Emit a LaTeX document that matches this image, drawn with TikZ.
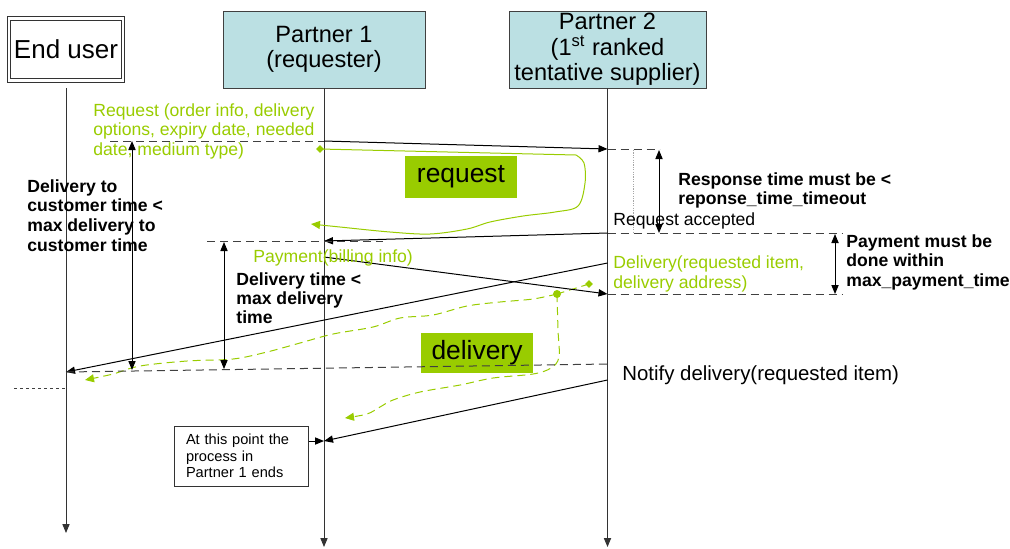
\documentclass[tikz,border=0pt]{standalone}
\usepackage{fontspec}
\setmainfont{Liberation Sans}
\usepackage{xcolor}
\usepackage{tikz}
\usetikzlibrary{arrows.meta,calc,positioning,shapes.geometric}

\definecolor{msggreen}{RGB}{153,204,0}
\definecolor{rolefill}{RGB}{187,224,227}

\tikzset{
  role/.style={draw=black!75,fill=rolefill,align=center,inner sep=0pt,
    font=\fontsize{11.8}{12.8}\selectfont},
  lifeline/.style={black!80,line width=0.5pt,-{Triangle[length=4.5pt,width=3.6pt]}},
  msg/.style={line width=0.5pt,-{Triangle[length=4.5pt,width=3.6pt]}},
  span/.style={line width=0.5pt,{Triangle[length=4.5pt,width=3.6pt]}-{Triangle[length=4.5pt,width=3.6pt]}},
  timeline/.style={black!75,line width=0.5pt,dash pattern=on 4pt off 2.5pt},
  flow/.style={msggreen,line width=0.5pt,-{Triangle[length=4.5pt,width=4pt]}},
  note/.style={inner sep=0pt,anchor=base west,align=left},
  tag/.style={fill=msggreen,minimum width=56pt,minimum height=21pt,
    font=\fontsize{13.2}{15}\selectfont}
}

\begin{document}
\begin{tikzpicture}[x=0.5pt,y=-0.5pt,font=\fontsize{8.8}{9.6}\selectfont]
\useasboundingbox (0,0) rectangle (1010,548);

% the three roles and their lifelines
\node[draw=black!80,line width=0.5pt,double,double distance=1.2pt,inner sep=0pt,minimum width=57pt,
  minimum height=31pt,font=\fontsize{13}{15}\selectfont] (enduser) at (66,49.5) {End user};
\node[role,minimum width=101pt,minimum height=38.5pt] (partnerA) at (324,49.5) {Partner 1\\(requester)};
\node[role,minimum width=98.5pt,minimum height=38.5pt] (partnerB) at (607.5,49.5)
  {Partner 2\\(1\textsuperscript{st} ranked\\tentative supplier)};
\foreach \who/\stop in {enduser/533,partnerA/547,partnerB/547}
  \draw[lifeline] (\who |- 0,88) -- (\who |- 0,\stop);

% message ends on the lifelines
\coordinate (rq-a) at (partnerA |- 0,141);
\coordinate (rq-b) at (partnerB |- 0,149);
\coordinate (ok-a) at (partnerB |- 0,233);
\coordinate (ok-b) at (partnerA |- 0,241);
\coordinate (pay-a) at (partnerA |- 0,257);
\coordinate (pay-b) at (partnerB |- 0,294);
\coordinate (dl-a) at (partnerB |- 0,263);
\coordinate (dl-b) at (enduser |- 0,372);
\coordinate (nt-a) at (partnerB |- 0,380);
\coordinate (nt-b) at (partnerA |- 0,441);

% green flows
\node[diamond,fill=msggreen,inner sep=0pt,minimum size=4pt] (rq-dot) at (320,149) {};
\draw[flow] (rq-dot.center) -- plot[smooth,tension=0.55] coordinates {(576,155) (584,163)
  (585,183) (578,206) (555,212) (523,216) (490,222) (467,229) (430,234) (390,232) (340,227) (311,224)};
\node[tag] (rq-tag) at (461,177) {request};

\node[diamond,fill=msggreen,inner sep=0pt,minimum size=4pt] (dl-tip) at (589,284) {};
\node[circle,fill=msggreen,inner sep=0pt,minimum size=4pt] (dl-dot) at (557,294) {};
\draw[flow,-,dash pattern=on 4pt off 2.5pt] (dl-tip.center) -- (dl-dot.center);
\draw[flow,dash pattern=on 4pt off 2.5pt] plot[smooth,tension=0.55] coordinates {(557,294)
  (533,299) (500,302) (467,306) (433,315) (400,318) (373,327) (333,334) (300,343) (267,352)
  (233,359) (187,361) (140,366) (113,374) (85,380)};
\draw[flow,dash pattern=on 4pt off 2.5pt] plot[smooth,tension=0.55] coordinates {(557,294)
  (558,330) (559,357) (551,368) (533,374) (493,378) (460,385) (420,392) (393,400) (380,407)
  (367,414) (345,418)};
\node[tag,minimum height=20pt] (dl-tag) at (477,353) {delivery};

% messages
\draw[msg] (rq-a) -- (rq-b);
\draw[msg] (ok-a) -- (ok-b);
\draw[msg] (pay-a) -- (pay-b);
\draw[msg] (dl-a) -- (dl-b);
\draw[msg] (nt-a) -- (nt-b);

% time marks
\draw[timeline] (110,141) -- (rq-a);
\draw[timeline] (rq-b) -- ++(52,0);
\draw[timeline] (ok-a) -- (843,233);
\draw[timeline] (207,241) -- (383,241);
\draw[timeline] (pay-b) -- (843,294);
\draw[timeline] (dl-b) -- (partnerB |- 0,364);
\draw[black!75,line width=0.5pt,dash pattern=on 1.5pt off 1.5pt] (14,388) -- (enduser |- 0,388);
\draw[black!35,line width=0.4pt,dash pattern=on 0.6pt off 0.6pt] (633,150) -- (633,233);

\draw[span] (132,141) -- (132,370);
\draw[span] (224,242) -- (224,369);
\draw[span] (659,150) -- (659,233);
\draw[span] (835,234) -- (835,294);

% labels (base = last line)
\node[note,text=msggreen] (rq-txt) at (93,155)
  {Request (order info, delivery\\options, expiry date, needed\\date, medium type)};
\node[note,font=\fontsize{8.8}{9.5}\selectfont\bfseries] (resp-txt) at (678,204)
  {Response time must be <\\reponse\_time\_timeout};
\node[note] (ok-txt) at (613,225) {Request accepted};
\node[note,font=\fontsize{8.8}{9.75}\selectfont\bfseries] (pay-lim) at (846,286)
  {Payment must be\\done within\\max\_payment\_time};
\node[note,font=\fontsize{8.8}{9.8}\selectfont\bfseries] (cust-lim) at (27,251)
  {Delivery to\\customer time <\\max delivery to\\customer time};
\node[note,text=msggreen] (pay-txt) at (253,262) {Payment(billing info)};
\node[note,text=msggreen] (dl-txt) at (613,288) {Delivery(requested item,\\delivery address)};
\node[note,font=\fontsize{8.8}{9.5}\selectfont\bfseries] (dl-lim) at (236,323)
  {Delivery time <\\max delivery\\time};
\node[note,font=\fontsize{10.2}{12}\selectfont] (nt-txt) at (622,380) {Notify delivery(requested item)};

\node[draw=black!80,line width=0.5pt,align=left,text width=55pt,inner xsep=6pt,minimum height=30pt,
  font=\fontsize{7.3}{8.25}\selectfont] (endnote) at (241,456) {At this point the\\process in\\Partner 1 ends};
\draw[msg] (endnote.east |- nt-b) -- (nt-b);
\end{tikzpicture}
\end{document}
